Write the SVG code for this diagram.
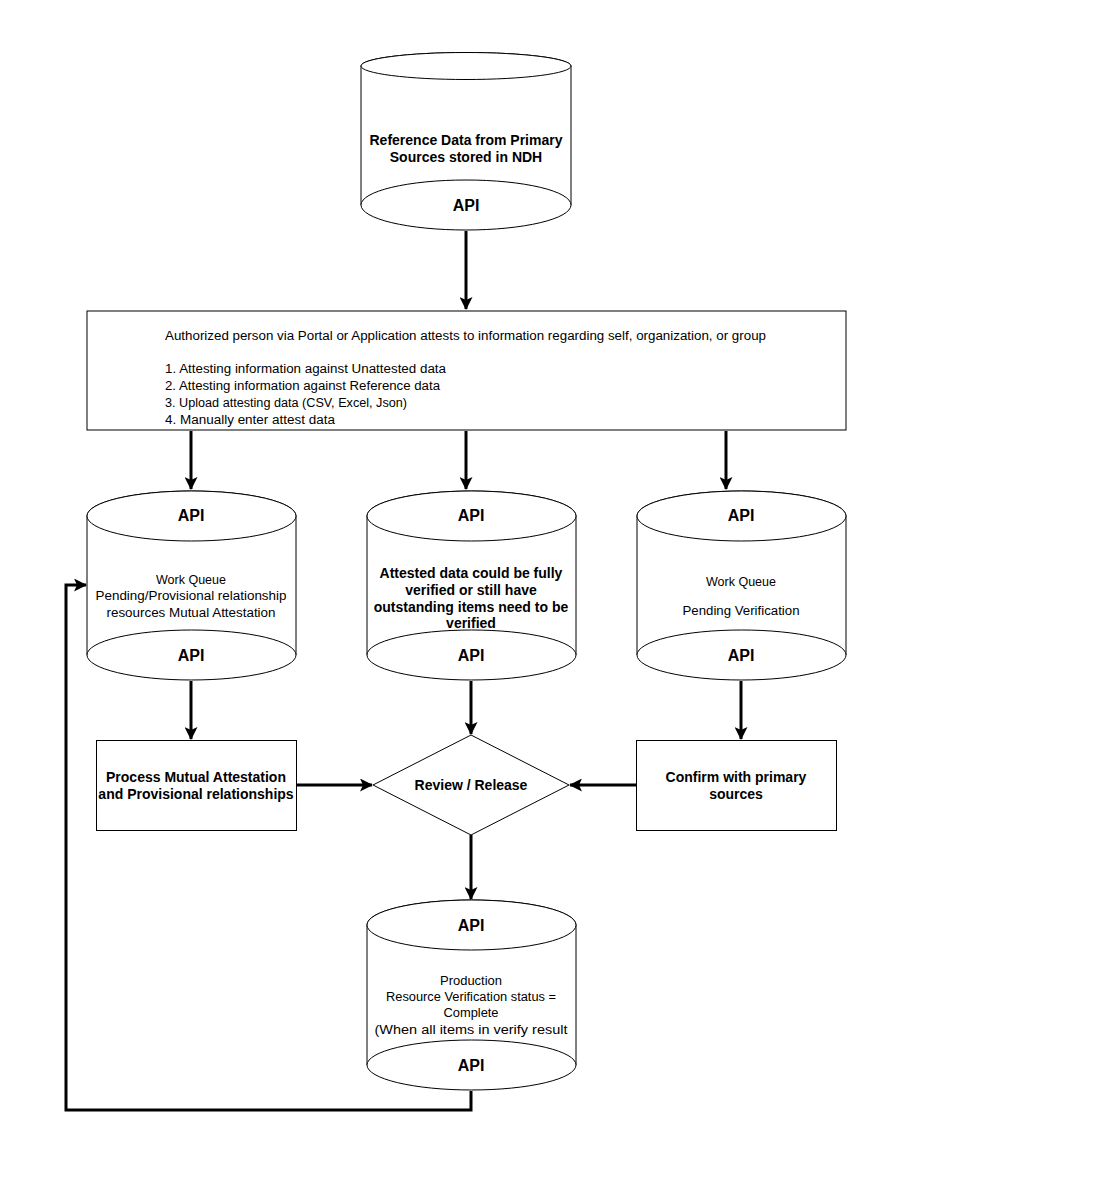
<svg xmlns="http://www.w3.org/2000/svg" width="1106" height="1192" viewBox="0 0 1106 1192">
<style>
.s{fill:#fff;stroke:#000;stroke-width:1}
.c{fill:none;stroke:#000;stroke-width:3}
.b{font-family:"Liberation Sans",Arial,sans-serif;font-weight:bold;font-size:14px;text-anchor:middle;fill:#000}
.api{font-family:"Liberation Sans",Arial,sans-serif;font-weight:bold;font-size:16px;text-anchor:middle;fill:#000}
.n{font-family:"Liberation Sans",Arial,sans-serif;font-size:12px;fill:#000}
.m{text-anchor:middle}
</style>
<defs>
<marker id="ah" markerWidth="13" markerHeight="13" refX="12" refY="6.5" orient="auto" markerUnits="userSpaceOnUse" viewBox="0 0 13 13">
<path d="M0,0 L13,6.5 L0,13 L3,6.5 Z" fill="#000"/>
</marker>
</defs>
<rect width="1106" height="1192" fill="#fff"/>
<g id="connectors">
<path class="c" d="M466,231 V309" marker-end="url(#ah)"/>
<path class="c" d="M191,431 V489" marker-end="url(#ah)"/>
<path class="c" d="M466,431 V489" marker-end="url(#ah)"/>
<path class="c" d="M726,431 V489" marker-end="url(#ah)"/>
<path class="c" d="M191,681 V739" marker-end="url(#ah)"/>
<path class="c" d="M471,681 V734" marker-end="url(#ah)"/>
<path class="c" d="M741,681 V739" marker-end="url(#ah)"/>
<path class="c" d="M297,785 H372" marker-end="url(#ah)"/>
<path class="c" d="M636,785 H570" marker-end="url(#ah)"/>
<path class="c" d="M471,835 V899" marker-end="url(#ah)"/>
<path class="c" d="M471,1091 V1110 H66 V585 H86" marker-end="url(#ah)"/>
</g>
<g id="ref-data">
<path class="s" d="M361,66 V205 A105,25 0 0 0 571,205 V66 A105,13.5 0 0 0 361,66 Z"/>
<ellipse class="s" cx="466" cy="66" rx="105" ry="13.5"/>
<path class="s" d="M361,205 A105,25 0 0 1 571,205"/>
<text class="b" x="466" y="145">Reference Data from Primary</text>
<text class="b" x="466" y="162">Sources stored in NDH</text>
<text class="api" x="466" y="211">API</text>
</g>
<g id="attest">
<rect class="s" x="87" y="311" width="759" height="119"/>
<text class="n" x="165" y="340" textLength="601" lengthAdjust="spacingAndGlyphs">Authorized person via Portal or Application attests to information regarding self, organization, or group</text>
<text class="n" x="165" y="373" textLength="281" lengthAdjust="spacingAndGlyphs">1. Attesting information against Unattested data</text>
<text class="n" x="165" y="390" textLength="275" lengthAdjust="spacingAndGlyphs">2. Attesting information against Reference data</text>
<text class="n" x="165" y="407" textLength="242" lengthAdjust="spacingAndGlyphs">3. Upload attesting data (CSV, Excel, Json)</text>
<text class="n" x="165" y="424" textLength="170" lengthAdjust="spacingAndGlyphs">4. Manually enter attest data</text>
</g>
<g id="wq-mutual">
<path class="s" d="M87,516 V655 A104.5,25 0 0 0 296,655 V516 A104.5,25 0 0 0 87,516 Z"/>
<ellipse class="s" cx="191.5" cy="516" rx="104.5" ry="25"/>
<path class="s" d="M87,655 A104.5,25 0 0 1 296,655"/>
<text class="api" x="191" y="521">API</text>
<text class="n m" x="191" y="584" textLength="70" lengthAdjust="spacingAndGlyphs">Work Queue</text>
<text class="n m" x="191" y="600" textLength="191" lengthAdjust="spacingAndGlyphs">Pending/Provisional relationship</text>
<text class="n m" x="191" y="617" textLength="169" lengthAdjust="spacingAndGlyphs">resources Mutual Attestation</text>
<text class="api" x="191" y="661">API</text>
</g>
<g id="attested">
<path class="s" d="M367,516 V655 A104.5,25 0 0 0 576,655 V516 A104.5,25 0 0 0 367,516 Z"/>
<ellipse class="s" cx="471.5" cy="516" rx="104.5" ry="25"/>
<path class="s" d="M367,655 A104.5,25 0 0 1 576,655"/>
<text class="api" x="471" y="521">API</text>
<text class="b" x="471" y="578">Attested data could be fully</text>
<text class="b" x="471" y="595">verified or still have</text>
<text class="b" x="471" y="612">outstanding items need to be</text>
<text class="b" x="471" y="628">verified</text>
<text class="api" x="471" y="661">API</text>
</g>
<g id="wq-verify">
<path class="s" d="M637,516 V655 A104.5,25 0 0 0 846,655 V516 A104.5,25 0 0 0 637,516 Z"/>
<ellipse class="s" cx="741.5" cy="516" rx="104.5" ry="25"/>
<path class="s" d="M637,655 A104.5,25 0 0 1 846,655"/>
<text class="api" x="741" y="521">API</text>
<text class="n m" x="741" y="586" textLength="70" lengthAdjust="spacingAndGlyphs">Work Queue</text>
<text class="n m" x="741" y="615" textLength="117" lengthAdjust="spacingAndGlyphs">Pending Verification</text>
<text class="api" x="741" y="661">API</text>
</g>
<g id="process">
<rect class="s" x="96.5" y="740.5" width="200" height="90"/>
<text class="b" x="196" y="782">Process Mutual Attestation</text>
<text class="b" x="196" y="799">and Provisional relationships</text>
</g>
<g id="review">
<path class="s" d="M471,735 L569,785 L471,835 L373,785 Z"/>
<text class="b" x="471" y="790">Review / Release</text>
</g>
<g id="confirm">
<rect class="s" x="636.5" y="740.5" width="200" height="90"/>
<text class="b" x="736" y="782">Confirm with primary</text>
<text class="b" x="736" y="799">sources</text>
</g>
<g id="production">
<path class="s" d="M367,925 V1065 A104.5,25 0 0 0 576,1065 V925 A104.5,25 0 0 0 367,925 Z"/>
<ellipse class="s" cx="471.5" cy="925" rx="104.5" ry="25"/>
<path class="s" d="M367,1065 A104.5,25 0 0 1 576,1065"/>
<text class="api" x="471" y="931">API</text>
<text class="n m" x="471" y="985" textLength="62" lengthAdjust="spacingAndGlyphs">Production</text>
<text class="n m" x="471" y="1001" textLength="170" lengthAdjust="spacingAndGlyphs">Resource Verification status =</text>
<text class="n m" x="471" y="1017" textLength="55" lengthAdjust="spacingAndGlyphs">Complete</text>
<text class="n m" x="471" y="1034" textLength="193" lengthAdjust="spacingAndGlyphs">(When all items in verify result</text>
<text class="api" x="471" y="1071">API</text>
</g>
</svg>
